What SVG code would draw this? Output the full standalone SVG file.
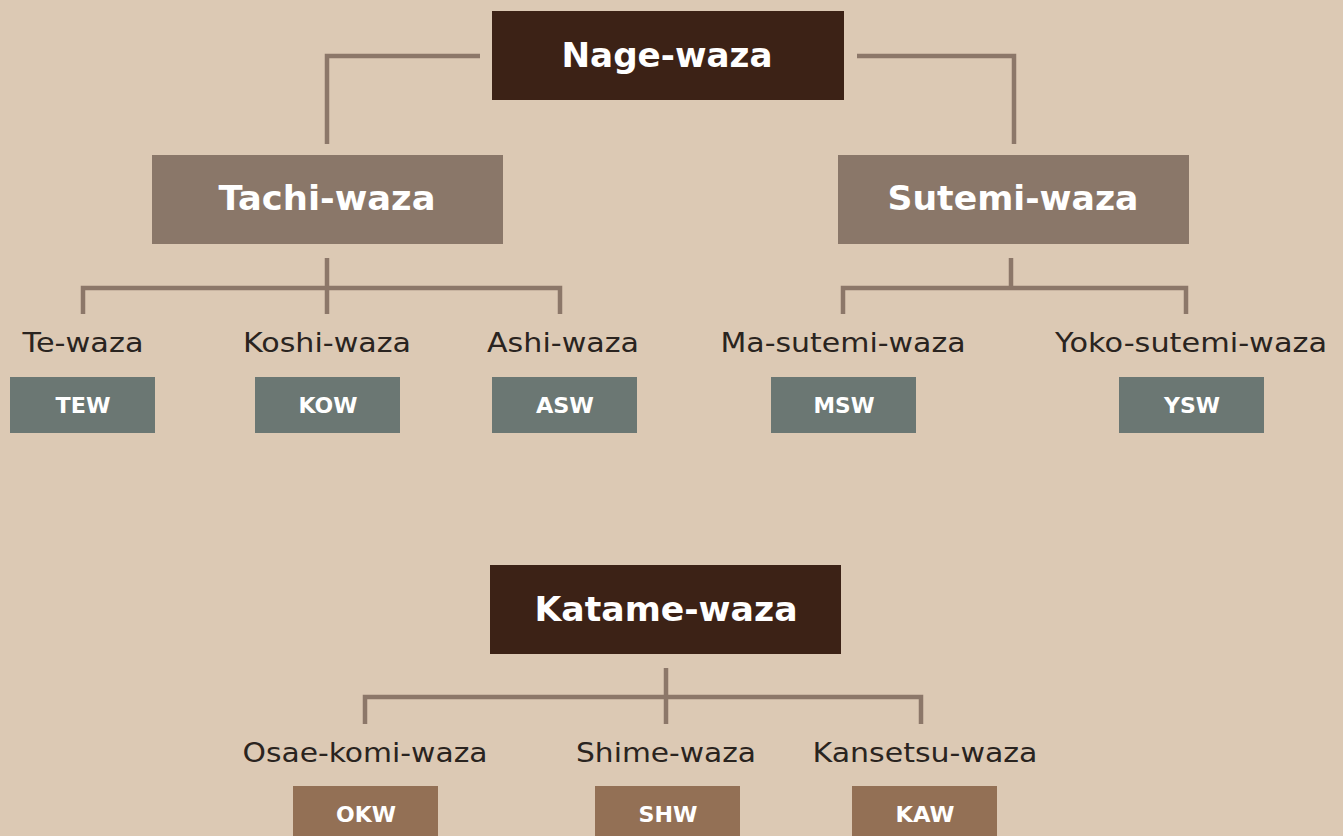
<svg xmlns="http://www.w3.org/2000/svg" width="1343" height="836" viewBox="0 0 1343 836">
<style>
.bg{fill:#DCC9B4}
.dark{fill:#3C2216}
.mid{fill:#8A7769}
.slate{fill:#6B7773}
.brown{fill:#937055}
.h{font-family:"DejaVu Sans","Noto Sans",sans-serif;font-weight:700;font-size:33px;fill:#FFFFFF;text-anchor:middle}
.lbl{font-family:"DejaVu Sans","Noto Sans",sans-serif;font-size:27px;fill:#2A2420;text-anchor:middle}
.code{font-family:"DejaVu Sans","Noto Sans",sans-serif;font-weight:700;font-size:21px;fill:#FFFFFF;text-anchor:middle}
.ln{fill:none;stroke:#8C7769;stroke-width:4.5}
</style>
<rect class="bg" x="0" y="0" width="1343" height="836"/>
<g id="connectors">
<path class="ln" d="M480,56 H327 V144"/>
<path class="ln" d="M857,56 H1014 V144"/>
<path class="ln" d="M327,258 V314 M83,314 V288 H560 V314"/>
<path class="ln" d="M1011,258 V288 M843,314 V288 H1186 V314"/>
<path class="ln" d="M666,668 V724 M365,724 V697 H921 V724"/>
</g>
<g id="nage-waza"><rect class="dark" x="492" y="11" width="352" height="89"/><text class="h" x="667" y="67" textLength="211" lengthAdjust="spacingAndGlyphs">Nage-waza</text></g>
<g id="tachi-waza"><rect class="mid" x="152" y="155" width="351" height="89"/><text class="h" x="327" y="210" textLength="217" lengthAdjust="spacingAndGlyphs">Tachi-waza</text></g>
<g id="sutemi-waza"><rect class="mid" x="838" y="155" width="351" height="89"/><text class="h" x="1013" y="210" textLength="251" lengthAdjust="spacingAndGlyphs">Sutemi-waza</text></g>
<g id="te-waza"><text class="lbl" x="83" y="352" textLength="121" lengthAdjust="spacingAndGlyphs">Te-waza</text><rect class="slate" x="10" y="377" width="145" height="56"/><text class="code" x="83" y="413" textLength="55" lengthAdjust="spacingAndGlyphs">TEW</text></g>
<g id="koshi-waza"><text class="lbl" x="327" y="352" textLength="168" lengthAdjust="spacingAndGlyphs">Koshi-waza</text><rect class="slate" x="255" y="377" width="145" height="56"/><text class="code" x="328" y="413" textLength="59" lengthAdjust="spacingAndGlyphs">KOW</text></g>
<g id="ashi-waza"><text class="lbl" x="563" y="352" textLength="152" lengthAdjust="spacingAndGlyphs">Ashi-waza</text><rect class="slate" x="492" y="377" width="145" height="56"/><text class="code" x="565" y="413" textLength="58" lengthAdjust="spacingAndGlyphs">ASW</text></g>
<g id="ma-sutemi-waza"><text class="lbl" x="843" y="352" textLength="245" lengthAdjust="spacingAndGlyphs">Ma-sutemi-waza</text><rect class="slate" x="771" y="377" width="145" height="56"/><text class="code" x="844" y="413" textLength="61" lengthAdjust="spacingAndGlyphs">MSW</text></g>
<g id="yoko-sutemi-waza"><text class="lbl" x="1191" y="352" textLength="272" lengthAdjust="spacingAndGlyphs">Yoko-sutemi-waza</text><rect class="slate" x="1119" y="377" width="145" height="56"/><text class="code" x="1192" y="413" textLength="56" lengthAdjust="spacingAndGlyphs">YSW</text></g>
<g id="katame-waza"><rect class="dark" x="490" y="565" width="351" height="89"/><text class="h" x="666" y="621" textLength="263" lengthAdjust="spacingAndGlyphs">Katame-waza</text></g>
<g id="osae-komi-waza"><text class="lbl" x="365" y="762" textLength="245" lengthAdjust="spacingAndGlyphs">Osae-komi-waza</text><rect class="brown" x="293" y="786" width="145" height="56"/><text class="code" x="366" y="822" textLength="60" lengthAdjust="spacingAndGlyphs">OKW</text></g>
<g id="shime-waza"><text class="lbl" x="666" y="762" textLength="180" lengthAdjust="spacingAndGlyphs">Shime-waza</text><rect class="brown" x="595" y="786" width="145" height="56"/><text class="code" x="668" y="822" textLength="59" lengthAdjust="spacingAndGlyphs">SHW</text></g>
<g id="kansetsu-waza"><text class="lbl" x="925" y="762" textLength="225" lengthAdjust="spacingAndGlyphs">Kansetsu-waza</text><rect class="brown" x="852" y="786" width="145" height="56"/><text class="code" x="925" y="822" textLength="59" lengthAdjust="spacingAndGlyphs">KAW</text></g>
</svg>
